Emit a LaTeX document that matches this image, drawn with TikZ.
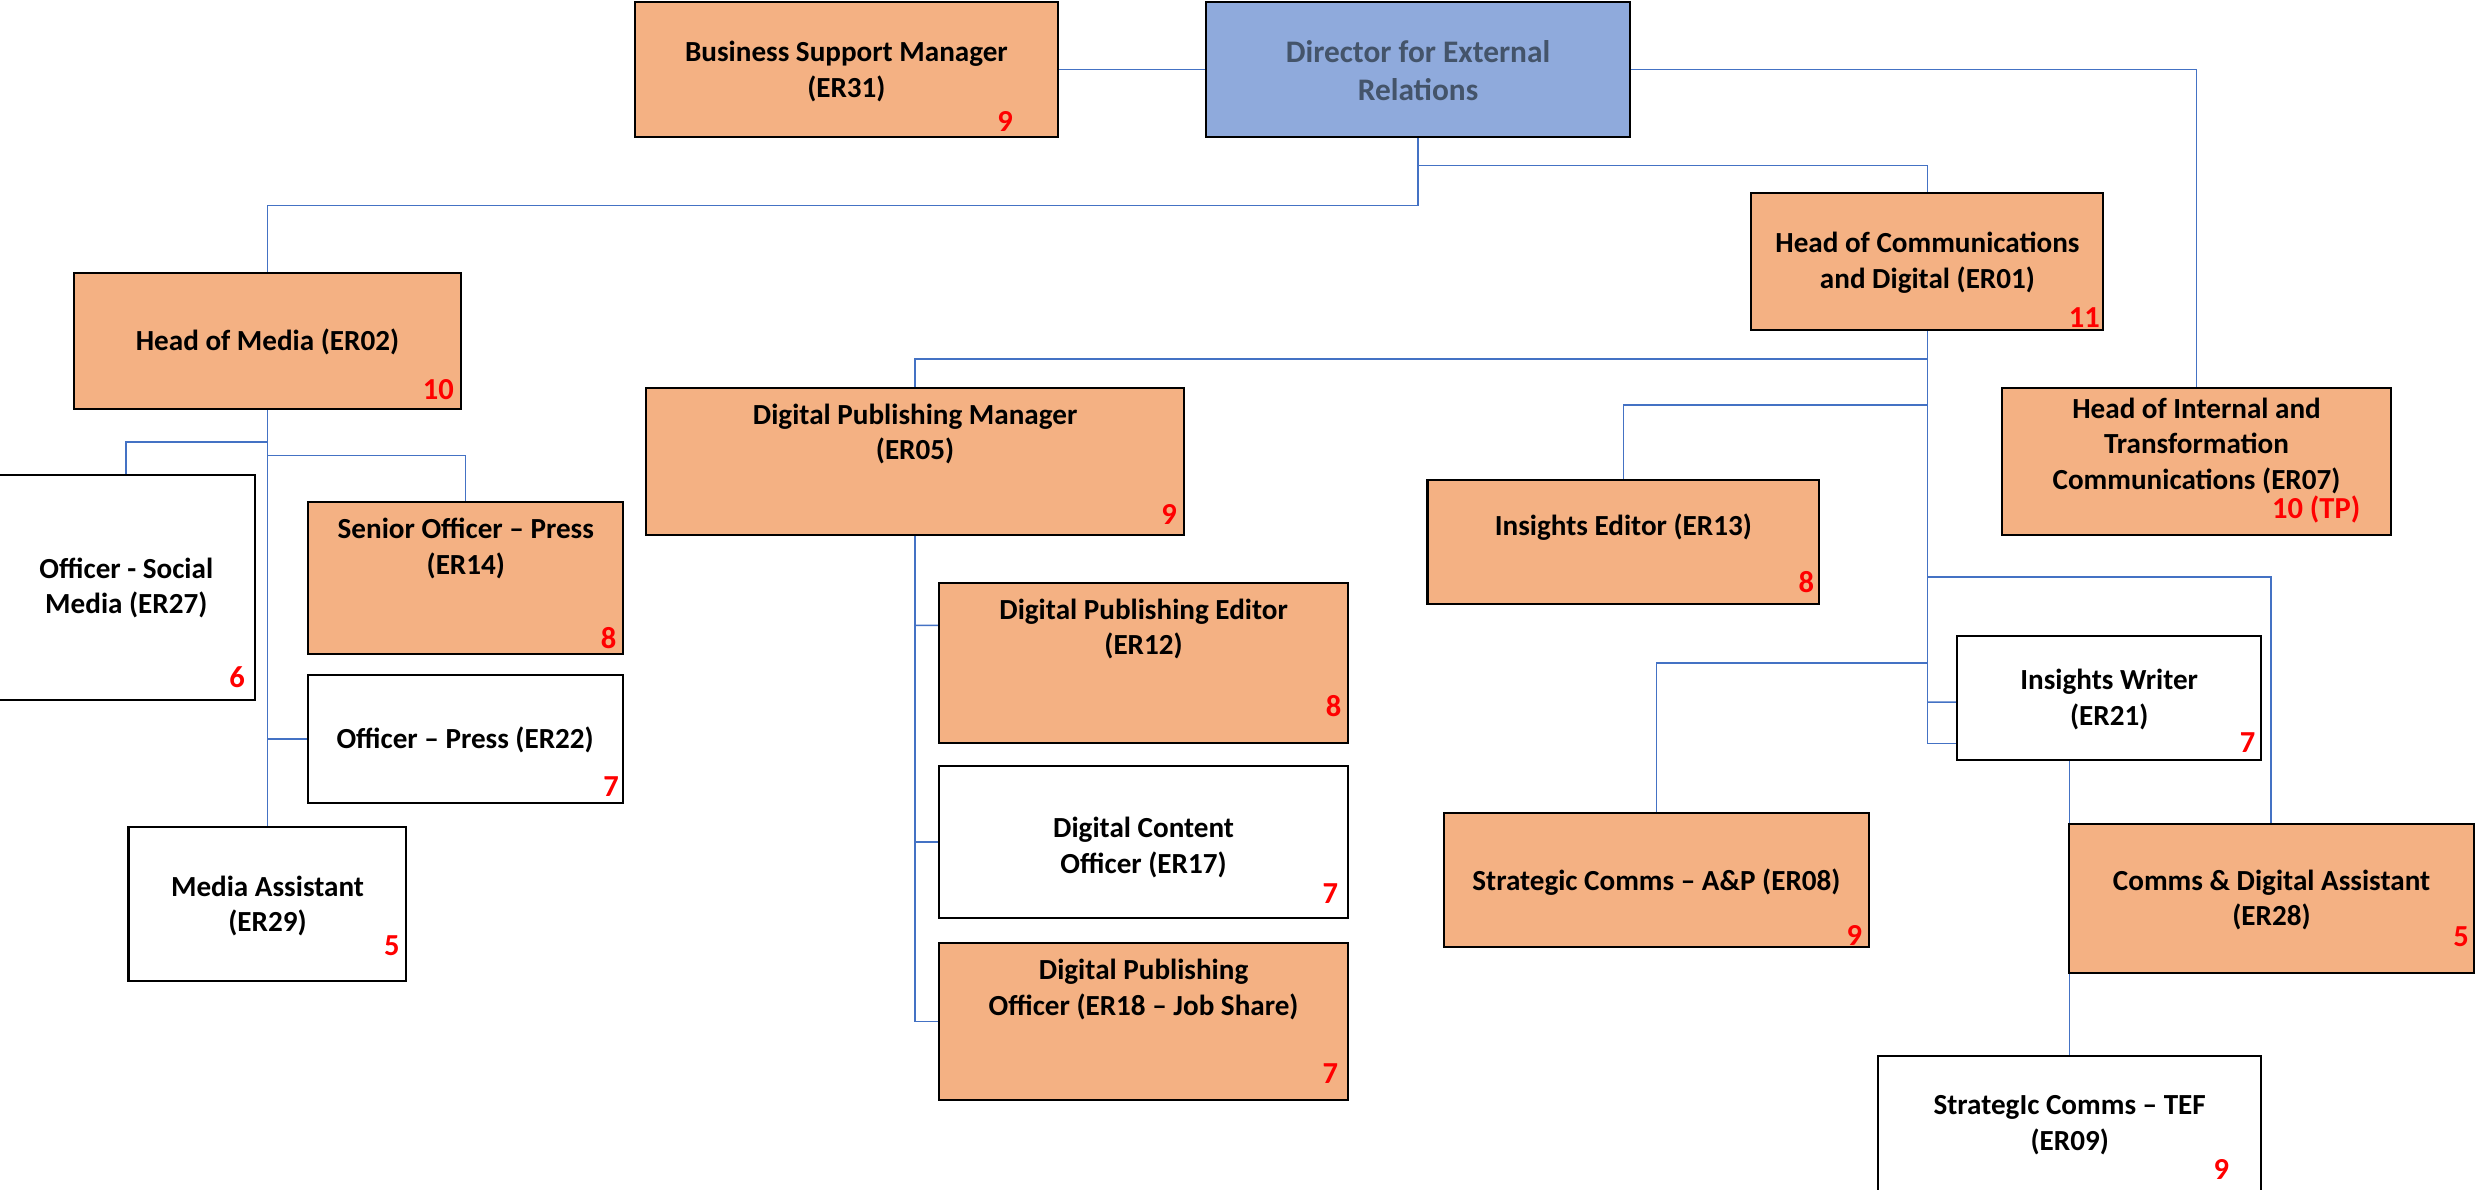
\documentclass[tikz,border=0pt]{standalone}
\usepackage{fontspec}
\setmainfont{Carlito}
\usetikzlibrary{backgrounds}
\definecolor{orgorange}{HTML}{F4B183}
\definecolor{orgblue}{HTML}{8FAADC}
\definecolor{orgline}{HTML}{4472C4}
\definecolor{dirtext}{HTML}{44546A}
\definecolor{gradered}{HTML}{FF0000}
\newcommand\orgbox[6]{\node[boxst,fill=#2,minimum width={(#5-(#3))*0.02cm},minimum height={(#6-(#4))*0.02cm}] (#1) at ({(#3+#5)/2},{(#4+#6)/2}) {};}
\newcommand\orgtext[4]{\node[txt] (#1t) at (#2,#3) {#4};}
\newcommand\orggrade[4]{\node[grade] (#1g) at (#2,#3) {#4};}
\begin{document}
\begin{tikzpicture}[x=0.02cm,y=-0.02cm,
 boxst/.style={draw=black,line width=0.75pt,rectangle,inner sep=0pt,outer sep=0pt},
 txt/.style={align=center,inner sep=0pt,font=\bfseries\fontsize{10.5}{12.8}\selectfont},
 dirtxt/.style={txt,text=dirtext,font=\bfseries\fontsize{11.3}{13.5}\selectfont},
 grade/.style={inner sep=0pt,text=gradered,font=\bfseries\fontsize{11}{13}\selectfont},
 conn/.style={draw=orgline,line width=0.55pt}]
\useasboundingbox (0,0) rectangle (1568,753);
% boxes
\orgbox{bsm}{orgorange}{402}{1}{670}{87}
\orgbox{dir}{orgblue}{764}{1}{1032}{87}
\orgbox{hoc}{orgorange}{1109}{122}{1332}{209}
\orgbox{hom}{orgorange}{46.7}{172.6}{292}{259}
\orgbox{dpm}{orgorange}{409}{246}{750}{339}
\orgbox{er07}{orgorange}{1268}{245.5}{1514}{339}
\orgbox{ie}{orgorange}{904}{304}{1152}{382.7}
\orgbox{er27}{white}{-2}{300.8}{161.7}{443.2}
\orgbox{er14}{orgorange}{195}{318}{394.7}{414}
\orgbox{er22}{white}{195}{427.5}{394.7}{508.3}
\orgbox{ma}{white}{81.4}{523.8}{257.3}{621.3}
\orgbox{dpe}{orgorange}{594.7}{369}{853.7}{470.6}
\orgbox{dco}{white}{594.7}{485}{853.7}{581.5}
\orgbox{dpo}{orgorange}{594.7}{597}{853.7}{696.7}
\orgbox{iw}{white}{1239.5}{403}{1432}{481}
\orgbox{ap}{orgorange}{914.5}{515}{1183.6}{600}
\orgbox{cda}{orgorange}{1310}{522}{1566.5}{616}
\orgbox{tef}{white}{1189}{669}{1432}{775}
% texts
\orgtext{bsm}{536}{45.2}{Business Support Manager\\(ER31)}
\node[dirtxt] (dirt) at (898,44.6) {Director for External\\Relations};
\orgtext{hoc}{1220.6}{166.5}{Head of Communications\\and Digital (ER01)}
\orgtext{hom}{169.4}{216.5}{Head of Media (ER02)}
\orgtext{dpm}{579.5}{274.9}{Digital Publishing Manager\\(ER05)}
\orgtext{er07}{1391}{282.4}{Head of Internal and\\Transformation\\Communications (ER07)}
\orgtext{ie}{1028}{333.7}{Insights Editor (ER13)}
\orgtext{er27}{80}{372.4}{Officer - Social\\Media (ER27)}
\orgtext{er14}{295}{347.3}{Senior Officer – Press\\(ER14)}
\orgtext{er22}{294.6}{468.3}{Officer – Press (ER22)}
\orgtext{ma}{169.4}{573.8}{Media Assistant\\(ER29)}
\orgtext{dpe}{724.2}{398.3}{Digital Publishing Editor\\(ER12)}
\orgtext{dco}{724.2}{536.6}{Digital Content\\Officer (ER17)}
\orgtext{dpo}{724.2}{626.7}{Digital Publishing\\Officer (ER18 – Job Share)}
\orgtext{iw}{1335.7}{443.1}{Insights Writer\\(ER21)}
\orgtext{ap}{1049}{558.6}{Strategic Comms – A\&P (ER08)}
\orgtext{cda}{1438.5}{570}{Comms \& Digital Assistant\\(ER28)}
\orgtext{tef}{1310.7}{712.5}{StrategIc Comms – TEF\\(ER09)}
% grades
\orggrade{bsm}{636.5}{77}{9}
\orggrade{hoc}{1320}{201}{11}
\orggrade{hom}{277.6}{247}{10}
\orggrade{dpm}{740.3}{326}{9}
\orggrade{er07}{1466.8}{322.8}{10 (TP)}
\orggrade{ie}{1143.9}{368.9}{8}
\orggrade{er27}{150.1}{428.9}{6}
\orggrade{er14}{385.4}{403.8}{8}
\orggrade{er22}{387}{498.3}{7}
\orggrade{ma}{248.2}{599.2}{5}
\orggrade{dpe}{844.6}{447.1}{8}
\orggrade{dco}{842.4}{565.7}{7}
\orggrade{dpo}{842.4}{679.8}{7}
\orggrade{iw}{1423.3}{470.4}{7}
\orggrade{ap}{1174.3}{592.2}{9}
\orggrade{cda}{1558.5}{593}{5}
\orggrade{tef}{1406.8}{740.6}{9}
% connectors
\begin{pgfonlayer}{background}
\draw[conn] (bsm.east) -- (dir.east -| dir.west);
\draw[conn] (dir.east) -| (er07.north);
\draw[conn] (dir.south) -- ++(0,43) -| (hom.north);
\draw[conn] (dir.south) ++(0,17.7) -| (hoc.north);
\draw[conn] (hom.south) -- (ma.north);
\draw[conn] (hom.south) ++(0,21) -| (er27.north);
\draw[conn] (hom.south) ++(0,29.6) -| (er14.north);
\draw[conn] (ma.north |- er22.west) -- (er22.west);
\draw[conn] (hoc.south) |- ([yshift=0.206cm]iw.south west);
\draw[conn] (hoc.south |- iw.west) ++(0,2.6) -- ([yshift=-0.052cm]iw.west);
\draw[conn] (hoc.south) ++(0,18.4) -| (dpm.north);
\draw[conn] (hoc.south) ++(0,47.5) -| (ie.north);
\draw[conn] (hoc.south) ++(0,156.5) -| (cda.north);
\draw[conn] (hoc.south) ++(0,211) -| (ap.north);
\draw[conn] (tef.north) -- (tef.north |- iw.south);
\draw[conn] (dpm.south) |- (dpo.west);
\draw[conn] (dpm.south |- dco.west) -- (dco.west);
\draw[conn] (dpm.south |- dpe.north west) ++(0,27) -- ([yshift=-0.54cm]dpe.north west);
\end{pgfonlayer}
\end{tikzpicture}
\end{document}
